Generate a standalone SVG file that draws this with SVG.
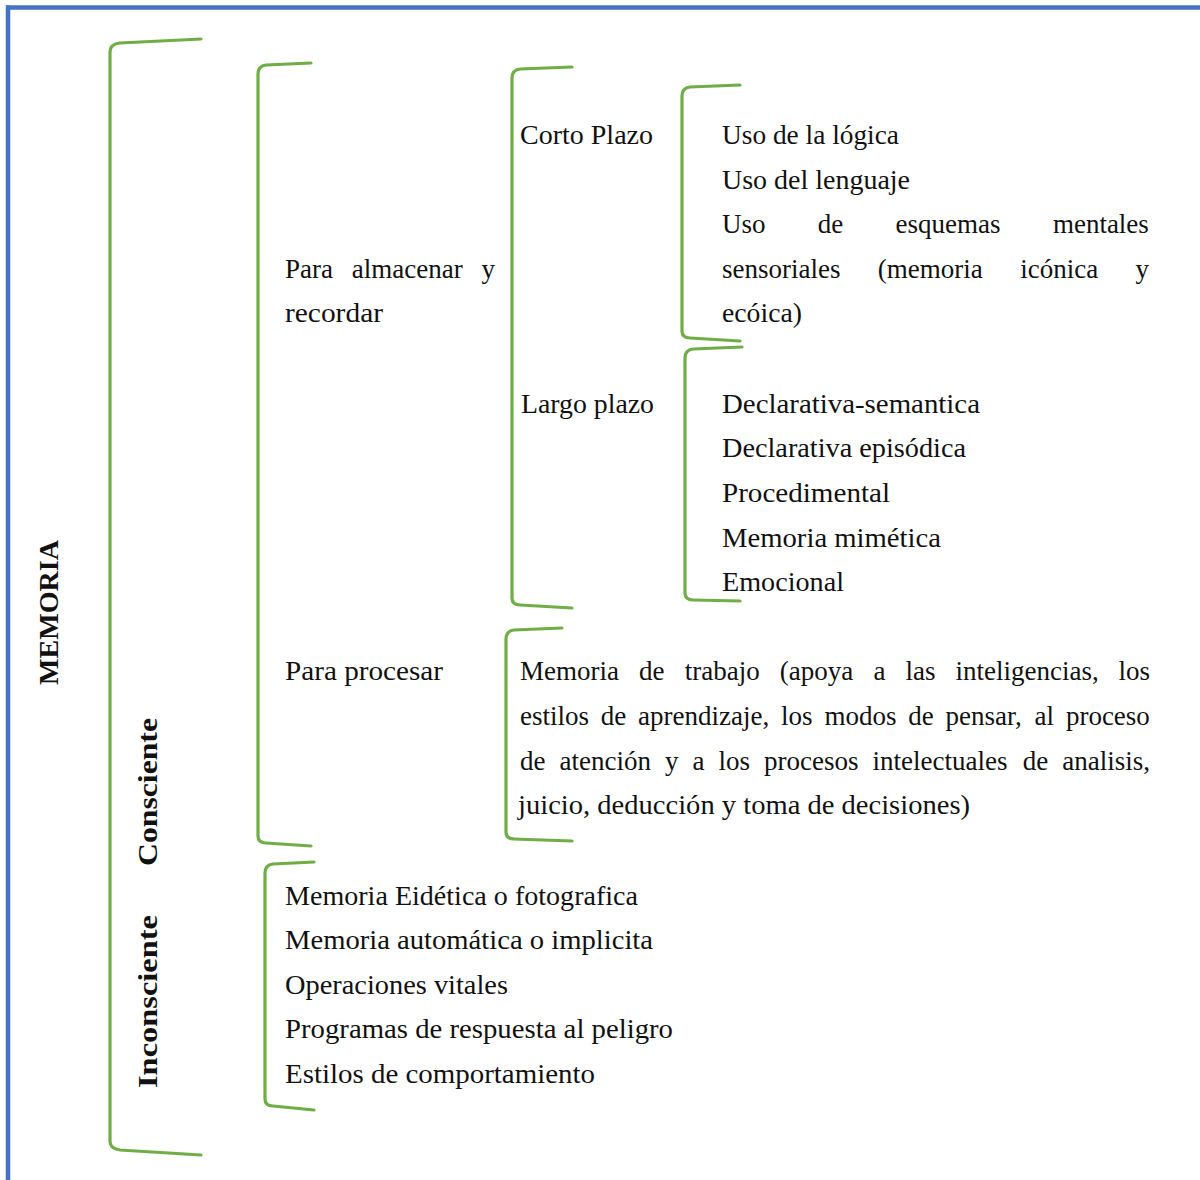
<svg xmlns="http://www.w3.org/2000/svg" width="1200" height="1180" viewBox="0 0 1200 1180">
<style>
.br{fill:none;stroke:#70AD47;stroke-width:3.2;stroke-linecap:round;stroke-linejoin:round}
.t{font-family:"Liberation Serif","DejaVu Serif",serif;font-size:27px;fill:#111}
.v{font-family:"Liberation Serif","DejaVu Serif",serif;font-weight:bold;font-size:28px;fill:#111}
</style>
<rect width="1200" height="1180" fill="#fff"/>
<g id="frame">
<line x1="6" y1="7.5" x2="1200" y2="7.5" stroke="#4472C4" stroke-width="4.5"/>
<line x1="8" y1="5.5" x2="8" y2="1180" stroke="#4472C4" stroke-width="4.5"/>
</g>
<g id="connectors">
<path class="br" d="M201,39 L120,43 Q110,44 110,52 L110,1141 Q110,1149 120,1150 L201,1155"/>
<path class="br" d="M311,63 L266,65 Q258,66 258,74 L258,836 Q258,843 266,843 L311,846"/>
<path class="br" d="M572,67 L520,69 Q512,70 512,78 L512,598 Q512,605 520,605 L572,608"/>
<path class="br" d="M740,85 L690,87 Q682,88 682,96 L682,331 Q682,338 690,338 L740,341"/>
<path class="br" d="M742,347 L693,349 Q685,350 685,358 L685,593 Q685,600 693,600 L740,601"/>
<path class="br" d="M562,628 L514,630 Q506,631 506,639 L506,832 Q506,839 514,839 L572,841"/>
<path class="br" d="M314,862 L273,864 Q265,865 265,873 L265,1099 Q265,1106 273,1106 L314,1110"/>
</g>
<g id="memoria"><text class="v" transform="translate(58,685) rotate(-90)" textLength="145" lengthAdjust="spacingAndGlyphs">MEMORIA</text></g>
<g id="consciente"><text class="v" transform="translate(157,866) rotate(-90)" textLength="148" lengthAdjust="spacingAndGlyphs">Consciente</text></g>
<g id="inconsciente"><text class="v" transform="translate(157,1088) rotate(-90)" textLength="173" lengthAdjust="spacingAndGlyphs">Inconsciente</text></g>
<g id="almacenar">
<text class="t" y="278"><tspan x="285">Para</tspan><tspan x="351.8">almacenar</tspan><tspan x="481.5">y</tspan></text>
<text class="t" x="285" y="322" textLength="98" lengthAdjust="spacingAndGlyphs">recordar</text>
</g>
<g id="corto"><text class="t" x="520" y="144" textLength="133" lengthAdjust="spacingAndGlyphs">Corto Plazo</text></g>
<g id="corto-items">
<text class="t" x="722" y="144" textLength="177" lengthAdjust="spacingAndGlyphs">Uso de la lógica</text>
<text class="t" x="722" y="189" textLength="188" lengthAdjust="spacingAndGlyphs">Uso del lenguaje</text>
<text class="t" y="233"><tspan x="722">Uso</tspan><tspan x="817.8">de</tspan><tspan x="895.6">esquemas</tspan><tspan x="1052.9">mentales</tspan></text>
<text class="t" y="278"><tspan x="722">sensoriales</tspan><tspan x="877.8">(memoria</tspan><tspan x="1020.2">icónica</tspan><tspan x="1135.5">y</tspan></text>
<text class="t" x="722" y="322" textLength="80" lengthAdjust="spacingAndGlyphs">ecóica)</text>
</g>
<g id="largo"><text class="t" x="521" y="413" textLength="133" lengthAdjust="spacingAndGlyphs">Largo plazo</text></g>
<g id="largo-items">
<text class="t" x="722" y="413" textLength="258" lengthAdjust="spacingAndGlyphs">Declarativa-semantica</text>
<text class="t" x="722" y="457" textLength="244" lengthAdjust="spacingAndGlyphs">Declarativa episódica</text>
<text class="t" x="722" y="502" textLength="168" lengthAdjust="spacingAndGlyphs">Procedimental</text>
<text class="t" x="722" y="547" textLength="219" lengthAdjust="spacingAndGlyphs">Memoria mimética</text>
<text class="t" x="722" y="591" textLength="122" lengthAdjust="spacingAndGlyphs">Emocional</text>
</g>
<g id="procesar"><text class="t" x="285" y="680" textLength="158" lengthAdjust="spacingAndGlyphs">Para procesar</text></g>
<g id="trabajo">
<text class="t" y="680"><tspan x="520">Memoria</tspan><tspan x="639.1">de</tspan><tspan x="684.7">trabajo</tspan><tspan x="779.8">(apoya</tspan><tspan x="873.4">a</tspan><tspan x="905.5">las</tspan><tspan x="955.6">inteligencias,</tspan><tspan x="1118.5">los</tspan></text>
<text class="t" y="725"><tspan x="520">estilos</tspan><tspan x="600.8">de</tspan><tspan x="638.1">aprendizaje,</tspan><tspan x="781.1">los</tspan><tspan x="824.5">modos</tspan><tspan x="908.3">de</tspan><tspan x="945.6">pensar,</tspan><tspan x="1034.6">al</tspan><tspan x="1065.9">proceso</tspan></text>
<text class="t" y="770"><tspan x="520">de</tspan><tspan x="559.5">atención</tspan><tspan x="665">y</tspan><tspan x="692.5">a</tspan><tspan x="718.5">los</tspan><tspan x="764">procesos</tspan><tspan x="872.5">intelectuales</tspan><tspan x="1022.8">de</tspan><tspan x="1062.3">analisis,</tspan></text>
<text class="t" x="518" y="814" textLength="452" lengthAdjust="spacingAndGlyphs">juicio, deducción y toma de decisiones)</text>
</g>
<g id="inconsciente-items">
<text class="t" x="285" y="905" textLength="353" lengthAdjust="spacingAndGlyphs">Memoria Eidética o fotografica</text>
<text class="t" x="285" y="949" textLength="368" lengthAdjust="spacingAndGlyphs">Memoria automática o implicita</text>
<text class="t" x="285" y="994" textLength="223" lengthAdjust="spacingAndGlyphs">Operaciones vitales</text>
<text class="t" x="285" y="1038" textLength="388" lengthAdjust="spacingAndGlyphs">Programas de respuesta al peligro</text>
<text class="t" x="285" y="1083" textLength="310" lengthAdjust="spacingAndGlyphs">Estilos de comportamiento</text>
</g>
</svg>
